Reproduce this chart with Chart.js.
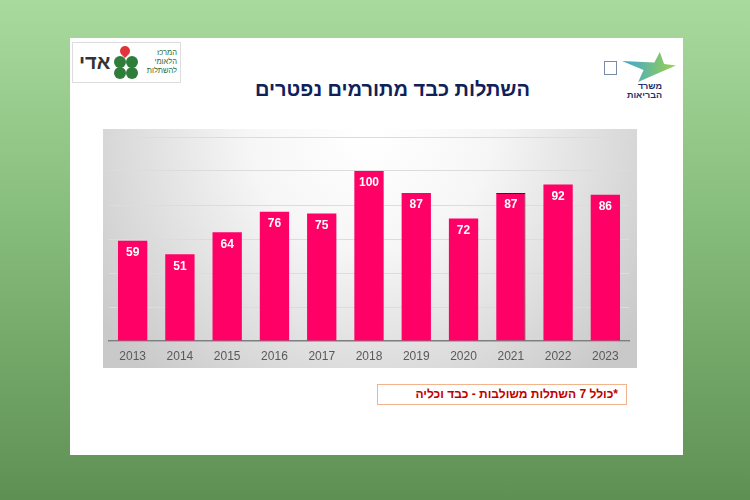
<!DOCTYPE html>
<html lang="he">
<head>
<meta charset="utf-8">
<script src="https://cdn.jsdelivr.net/npm/chart.js@4"></script>
<style>
  html, body { margin: 0; padding: 0; }
  body {
    width: 750px; height: 500px; overflow: hidden; position: relative;
    background: linear-gradient(180deg, #a8da9d 0%, #86bc7b 45%, #5e9053 100%);
    font-family: "Liberation Sans", Arial, sans-serif;
  }
  #slide { position: absolute; left: 70px; top: 38px; width: 613px; height: 417px; background: #fff; }
  #title {
    position: absolute; left: 0; top: 78px; width: 785px; text-align: center;
    direction: rtl; font-weight: bold; font-size: 20px; color: #10215a;
  }
  #chartBox { position: absolute; left: 103px; top: 129px; width: 534px; height: 239px; }
  #note {
    position: absolute; left: 377px; top: 384px; width: 240px; height: 19px;
    border: 1px solid #f2b48c; direction: rtl; text-align: right; padding-right: 8px;
    font-size: 12px; font-weight: bold; color: #c00000; line-height: 19px;
  }
  /* left logo */
  #logoL { position: absolute; left: 72px; top: 42px; width: 107px; height: 39px; border: 1px solid #ddd; background: #fff; }
  #logoL .name { position: absolute; left: 6px; top: 8px; font-size: 20px; font-weight: bold; color: #333; direction: rtl; }
  #logoL .small { position: absolute; left: 68px; top: 5px; font-size: 7.5px; line-height: 9px; color: #2a6b35; direction: rtl; text-align: right; width: 36px; }
  .leaf { position: absolute; width: 12px; height: 12px; border-radius: 50%; background: #2f7d3a; }
  .drop { position: absolute; width: 10px; height: 10px; border-radius: 50% 50% 50% 0; background: #e0343a; transform: rotate(-45deg); }
  /* right logo */
  #logoR { position: absolute; left: 598px; top: 48px; width: 82px; height: 52px; }
  #logoR .star { position: absolute; left: 24px; top: 4px; width: 54px; height: 30px; background: linear-gradient(90deg,#39a6d8,#9dd14a); clip-path: polygon(0 30%, 60% 35%, 70% 0, 78% 40%, 100% 45%, 55% 80%, 30% 100%, 40% 60%); }
  #logoR .emb { position: absolute; left: 6px; top: 13px; width: 11px; height: 12px; border: 1px solid #7a8aa6; }
  #logoR .txt { position: absolute; left: 24px; top: 34px; font-size: 9px; line-height: 9px; font-weight: bold; color: #1d2f6b; direction: rtl; text-align: right; width: 40px; }
</style>
</head>
<body>
<div id="slide"></div>
<div id="logoL">
  <div class="name">אדי</div>
  <div class="leaf" style="left:41px;top:13px"></div>
  <div class="leaf" style="left:53px;top:13px"></div>
  <div class="leaf" style="left:41px;top:24px"></div>
  <div class="leaf" style="left:53px;top:24px"></div>
  <div class="drop" style="left:47px;top:3px"></div>
  <div class="small">המרכז<br>הלאומי<br>להשתלות</div>
</div>
<div id="logoR">
  <div class="emb"></div>
  <div class="star"></div>
  <div class="txt">משרד<br>הבריאות</div>
</div>
<div id="title">השתלות כבד מתורמים נפטרים</div>
<div id="chartBox"><canvas id="chart"></canvas></div>
<div id="note">*כולל 7 השתלות משולבות - כבד וכליה</div>

<script>
// Data
const years = ['2013', '2014', '2015', '2016', '2017', '2018', '2019', '2020', '2021', '2022', '2023'];
const transplants = [59, 51, 64, 76, 75, 100, 87, 72, 87, 92, 86];

// gray shaded backdrop behind the plot
const backdrop = {
    id: 'backdrop',
    beforeDraw(chart) {
        const { ctx, width, height } = chart;
        ctx.save();
        const g = ctx.createRadialGradient(width * 0.5, 0, 10, width * 0.5, 0, width * 0.62);
        g.addColorStop(0, '#ffffff');
        g.addColorStop(0.35, '#f6f6f6');
        g.addColorStop(1, '#c9c9c9');
        ctx.fillStyle = g;
        ctx.fillRect(0, 0, width, height);
        ctx.restore();
    }
};

// value labels inside the top of each bar
const barLabels = {
    id: 'barLabels',
    afterDatasetsDraw(chart) {
        const { ctx } = chart;
        const meta = chart.getDatasetMeta(0);
        ctx.save();
        ctx.fillStyle = '#ffffff';
        ctx.font = 'bold 12px "Liberation Sans", Arial, sans-serif';
        ctx.textAlign = 'center';
        ctx.textBaseline = 'middle';
        meta.data.forEach((bar, i) => {
            ctx.fillText(transplants[i], bar.x, bar.y + 12);
        });
        ctx.restore();
    }
};

const ctx = document.getElementById('chart').getContext('2d');
const chart = new Chart(ctx, {
    type: 'bar',
    data: {
        labels: years,
        datasets: [{
            data: transplants,
            backgroundColor: '#ff0066',
            borderColor: years.map(y => y === '2021' ? '#5a0a2a' : '#ff0066'),
            borderWidth: years.map(y => y === '2021' ? { top: 1, right: 1 } : 0),
            borderSkipped: 'bottom',
            categoryPercentage: 1,
            barPercentage: 0.62
        }]
    },
    options: {
        responsive: true,
        maintainAspectRatio: false,
        animation: false,
        layout: { padding: { left: 6, right: 8, top: 8, bottom: 0 } },
        plugins: { legend: { display: false }, tooltip: { enabled: false } },
        scales: {
            x: {
                grid: { display: false, drawTicks: false },
                border: { color: '#7f7f7f', width: 1.5 },
                ticks: { color: '#595959', font: { size: 12, family: '"Liberation Sans", Arial, sans-serif' }, padding: 8 },
                afterFit: (scale) => { scale.height = 27; }
            },
            y: {
                min: 0, max: 120,
                ticks: { stepSize: 20, display: false },
                grid: { color: '#dcdcdc', drawTicks: false },
                border: { display: false }
            }
        }
    },
    plugins: [backdrop, barLabels]
});
</script>
</body>
</html>
